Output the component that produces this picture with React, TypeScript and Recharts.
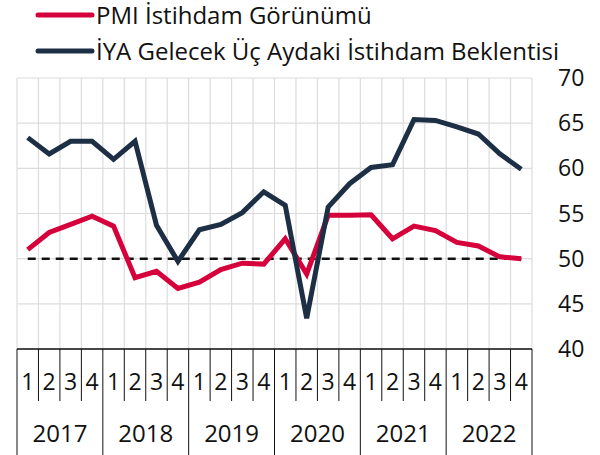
import React from 'react';
import { LineChart, Line, XAxis, YAxis, CartesianGrid, ReferenceLine } from 'recharts';

const years = ['2017', '2018', '2019', '2020', '2021', '2022'];
const quarters = ['1', '2', '3', '4'];
const pmiEmployment = [
  51.0, 52.9, 53.8, 54.7,
  53.6, 47.9, 48.6, 46.7,
  47.4, 48.8, 49.5, 49.4,
  52.2, 48.3, 54.8, 54.8,
  54.85, 52.2, 53.6, 53.1,
  51.8, 51.4, 50.2, 50.0,
];
const iyaEmployment = [
  63.4, 61.6, 63.0, 63.0,
  61.0, 63.0, 53.7, 49.7,
  53.2, 53.8, 55.1, 57.4,
  55.9, 43.4, 55.7, 58.3,
  60.1, 60.4, 65.4, 65.3,
  64.6, 63.8, 61.6, 59.9,
];
const yTicks = [40, 45, 50, 55, 60, 65, 70];
const seriesNames = ['PMI İstihdam Görünümü', 'İYA Gelecek Üç Aydaki İstihdam Beklentisi'];

const RED = '#d6003a';
const NAVY = '#1d2f44';
const INK = '#111111';
const FONT = '"Open Sans", "Noto Sans", sans-serif';

const data = years.flatMap((year, yi) =>
  quarters.map((q, qi) => ({
    id: `${year}-${q}`,
    year,
    q,
    pmi: pmiEmployment[yi * 4 + qi],
    iya: iyaEmployment[yi * 4 + qi],
  }))
);

function halfBand(props: any) {
  const { payload, width, visibleTicksCount } = props;
  if (payload && typeof payload.offset === 'number' && payload.offset > 0) return payload.offset;
  return width / visibleTicksCount / 2;
}

function QuarterTick(props: any) {
  const { x, y, payload, index, visibleTicksCount } = props;
  const half = halfBand(props);
  const label = String(payload.value).split('-')[1];
  return (
    <g>
      <line x1={x - half} x2={x - half} y1={y} y2={y + 52} stroke={INK} strokeWidth={1} />
      {index === visibleTicksCount - 1 && (
        <line x1={x + half} x2={x + half} y1={y} y2={y + 52} stroke={INK} strokeWidth={1} />
      )}
      <text x={x} y={y + 41} textAnchor="middle" fontSize={23} fill={INK} fontFamily={FONT}>
        {label}
      </text>
    </g>
  );
}

function YearTick(props: any) {
  const { x, y, payload, index, visibleTicksCount } = props;
  const half = halfBand(props);
  return (
    <g>
      <line x1={x - half} x2={x - half} y1={y} y2={y + 54} stroke={INK} strokeWidth={1} />
      {index === visibleTicksCount - 1 && (
        <line x1={x + half} x2={x + half} y1={y} y2={y + 54} stroke={INK} strokeWidth={1} />
      )}
      <text x={x} y={y + 41} textAnchor="middle" fontSize={24} fill={INK} fontFamily={FONT}>
        {payload.value}
      </text>
    </g>
  );
}

function LegendBox() {
  const colors = [RED, NAVY];
  return (
    <svg width={600} height={72} style={{ position: 'absolute', left: 0, top: 0, overflow: 'visible' }}>
      {seriesNames.map((name, i) => (
        <g key={name}>
          <line x1={38} x2={92} y1={15 + i * 36} y2={15 + i * 36} stroke={colors[i]} strokeWidth={5} strokeLinecap="round" />
          <text x={96} y={23.5 + i * 36} fontSize={24} fill={INK} fontFamily={FONT}>
            {name}
          </text>
        </g>
      ))}
    </svg>
  );
}

export default function App() {
  return (
    <div style={{ position: 'absolute', left: 0, top: 0, width: 600, height: 455, background: '#fff' }}>
      <LineChart width={600} height={455} data={data} margin={{ top: 78, right: 0, left: 17, bottom: 0 }}>
        <CartesianGrid
          stroke="#dcdcdc"
          strokeWidth={1.2}
          verticalCoordinatesGenerator={({ offset }: any) =>
            data.map((_, i) => offset.left + (i * offset.width) / data.length).concat(offset.left + offset.width)
          }
        />
        <XAxis
          xAxisId="q"
          dataKey="id"
          scale="band"
          height={52}
          interval={0}
          tickSize={0}
          tickMargin={0}
          tickLine={false}
          axisLine={{ stroke: INK, strokeWidth: 1.5 }}
          tick={<QuarterTick />}
        />
        <XAxis
          xAxisId="year"
          dataKey="year"
          scale="band"
          allowDuplicatedCategory={false}
          ticks={years}
          height={54}
          interval={0}
          tickSize={0}
          tickMargin={0}
          tickLine={false}
          axisLine={false}
          tick={<YearTick />}
        />
        <YAxis
          orientation="right"
          domain={[40, 70]}
          ticks={yTicks}
          width={68}
          tickSize={0}
          tickMargin={26}
          tickLine={false}
          axisLine={false}
          tick={{ fontSize: 23, fill: INK, fontFamily: FONT }}
        />
        <ReferenceLine
          xAxisId="q"
          segment={[{ x: data[0].id, y: 50 }, { x: data[data.length - 1].id, y: 50 }]}
          stroke={INK}
          strokeWidth={2.5}
          strokeDasharray="8 6"
        />
        <Line xAxisId="q" type="linear" dataKey="pmi" name={seriesNames[0]} stroke={RED} strokeWidth={5} dot={false} isAnimationActive={false} />
        <Line xAxisId="q" type="linear" dataKey="iya" name={seriesNames[1]} stroke={NAVY} strokeWidth={5} dot={false} isAnimationActive={false} />
      </LineChart>
      <LegendBox />
    </div>
  );
}
